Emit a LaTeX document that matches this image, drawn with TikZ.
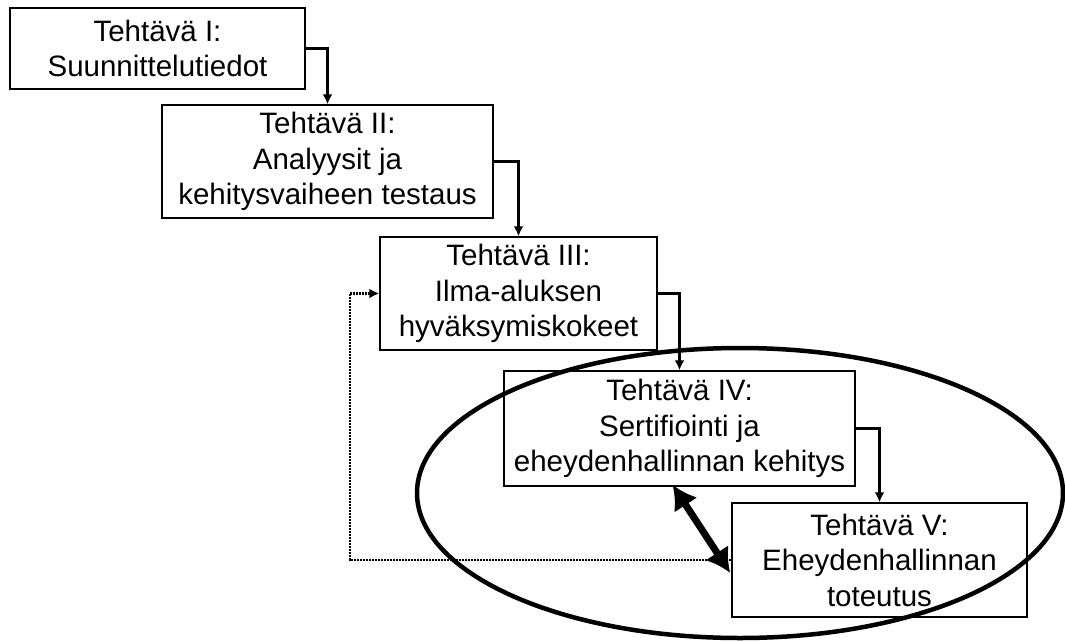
\documentclass[tikz,border=0pt]{standalone}
\usepackage{fontspec}
\setmainfont{Liberation Sans}
\usetikzlibrary{arrows.meta}
\begin{document}
\begin{tikzpicture}[x=1pt,y=-1pt,
  task/.style={draw, line width=1.5pt, align=center, inner sep=0pt,
    font=\fontsize{29.5}{35.5}\selectfont},
  flow/.style={line width=2.4pt, -{Latex[length=10pt,width=10pt]}},
  feedback/.style={line width=2.4pt, dash pattern=on 2pt off 1pt, -{Latex[length=10pt,width=10pt]}},
  link/.style={line width=7pt, {Latex[length=24pt,width=28pt]}-{Latex[length=24pt,width=28pt]}}]
\useasboundingbox (0,0) rectangle (1065,642);

% task boxes
\node[task, minimum width=295pt, minimum height=81pt] (t1) at (157.5,48.5)
  {Tehtävä I:\\Suunnittelutiedot};
\node[task, minimum width=331pt, minimum height=113pt] (t2) at (327.5,161.5)
  {Tehtävä II:\\Analyysit ja\\kehitysvaiheen testaus};
\node[task, minimum width=277pt, minimum height=113pt] (t3) at (518.5,293.5)
  {Tehtävä III:\\Ilma-aluksen\\hyväksymiskokeet};
\node[task, minimum width=351pt, minimum height=115pt] (t4) at (679.5,428.5)
  {Tehtävä IV:\\Sertifiointi ja\\eheydenhallinnan kehitys};
\node[task, minimum width=295pt, minimum height=114pt] (t5) at (879.5,560)
  {Tehtävä V:\\Eheydenhallinnan\\toteutus};

% step-down connectors
\draw[flow] (t1.east) -| (t2.north);
\draw[flow] (t2.east) -| (t3.north);
\draw[flow] (t3.east) -| (t4.north);
\draw[flow] (t4.east) -| (t5.north);

% feedback loop from task V back to task III
\coordinate (loop) at (350,560);
\draw[feedback] (t5.west) -- (loop) |- (t3.west);

% two-way link between tasks IV and V
\coordinate (la) at ([xshift=-7pt,yshift=2pt]t4.south);
\coordinate (lb) at ([xshift=-1pt,yshift=-13pt]t5.west);
\draw[link] (la) -- (lb);

% grouping ellipse around tasks IV and V
\draw[line width=4.5pt] (740,493) ellipse (323 and 145);
\end{tikzpicture}
\end{document}
